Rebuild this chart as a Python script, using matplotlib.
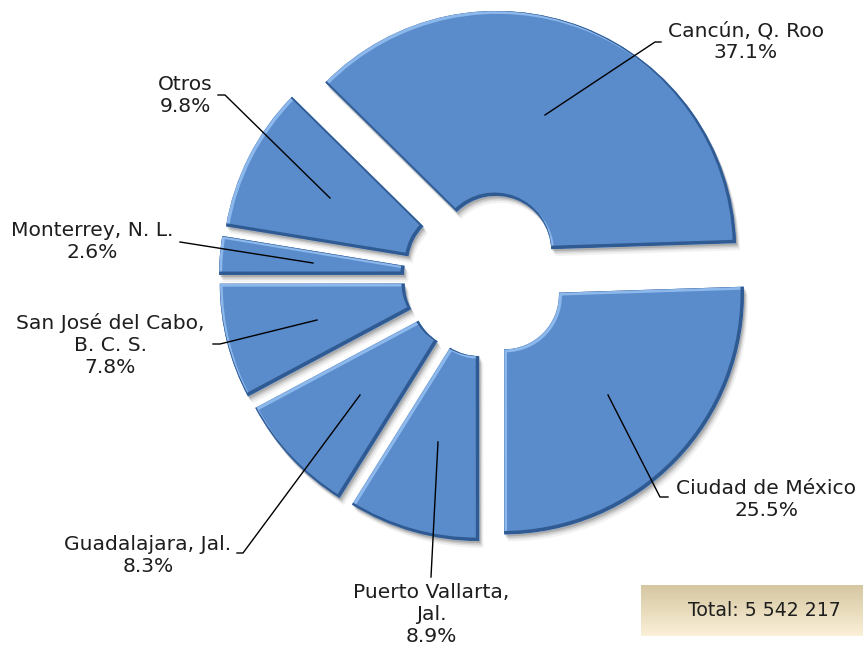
import matplotlib.pyplot as plt
import numpy as np
from matplotlib.patches import Wedge
from matplotlib.colors import LinearSegmentedColormap

# Destinos (porcentaje del total)
labels = ['Cancún, Q. Roo', 'Ciudad de México', 'Puerto Vallarta,\nJal.',
          'Guadalajara, Jal.', 'San José del Cabo,\nB. C. S.', 'Monterrey, N. L.', 'Otros']
shares = [37.1, 25.5, 8.9, 8.3, 7.8, 2.6, 9.8]
total_text = 'Total: 5 542 217'

# layout, in pixel units (y up)
W, H = 863, 650
CX, CY = 486, 650 - 277
R = 240
RING = 185
EXPLODE = [28, 25, 25, 26, 27, 27, 26]
START = 135.4
BLUE = '#5A8BCB'
TXT = '#1E1E1E'
FS = 14.6

# label text anchor (x, y) and leader line points, image coords
label_pos = [(746, 42), (766, 499), (431, 615), (148, 555), (110, 345), (92, 242), (185, 95)]
leaders = [[(545, 115), (655, 42), (661, 42)],
           [(608, 395), (660, 497), (668, 497)],
           [(438, 442), (431, 577)],
           [(360, 395), (243, 553), (237, 553)],
           [(317, 320), (220, 344), (213, 344)],
           [(313, 263), (180, 242)],
           [(330, 198), (225, 95), (218, 95)]]

fig = plt.figure(figsize=(W / 100, H / 100), dpi=100)
ax = fig.add_axes([0, 0, 1, 1])

wedges, _ = ax.pie(shares, radius=R, center=(CX, CY), explode=EXPLODE,
                   startangle=START, counterclock=False,
                   wedgeprops=dict(width=RING, facecolor=BLUE, edgecolor='none'))

for w in wedges:
  w.set_zorder(3)
  cx, cy = w.center
  # soft drop shadow
  for k, a in [(7, 0.05), (5, 0.07), (3.5, 0.1), (2, 0.14)]:
    s = Wedge((cx + k * 0.6, cy - k), w.r, w.theta1, w.theta2, width=w.width,
              facecolor='black', edgecolor='none', alpha=a, zorder=2)
    ax.add_patch(s)
  # bevel: light upper-left, dark lower-right
  hi = Wedge((cx + 1.4, cy - 1.4), w.r, w.theta1, w.theta2, width=w.width,
             facecolor='none', edgecolor='#8CB8EC', lw=2.2, zorder=4)
  hi.set_clip_path(w)
  ax.add_patch(hi)
  lo = Wedge((cx - 1.6, cy + 1.6), w.r, w.theta1, w.theta2, width=w.width,
             facecolor='none', edgecolor='#2F5A92', lw=2.6, zorder=4)
  lo.set_clip_path(w)
  ax.add_patch(lo)

for (x, y), lab, pct, pts in zip(label_pos, labels, shares, leaders):
  ax.text(x, H - y, '%s\n%.1f%%' % (lab, pct), ha='center', va='center',
          fontsize=FS, color=TXT, linespacing=1.2, zorder=6)
  xs = [p[0] for p in pts]
  ys = [H - p[1] for p in pts]
  ax.plot(xs, ys, color='black', lw=1.0, zorder=5)

# total box with beige gradient (darker at the top)
grad = np.linspace(0, 1, 64).reshape(-1, 1)
cmap = LinearSegmentedColormap.from_list('beige', ['#D5C7A1', '#FBF0D8'])
ax.imshow(grad, extent=[641, 868, H - 636, H - 585], cmap=cmap,
          aspect='auto', zorder=1, origin='upper')
ax.text(688, H - 611, total_text, ha='left', va='center', fontsize=13.6,
        color=TXT, zorder=6)

ax.set_xlim(0, W)
ax.set_ylim(0, H)
ax.set_aspect('auto')
ax.axis('off')

fig.savefig('out.png', dpi=100)
